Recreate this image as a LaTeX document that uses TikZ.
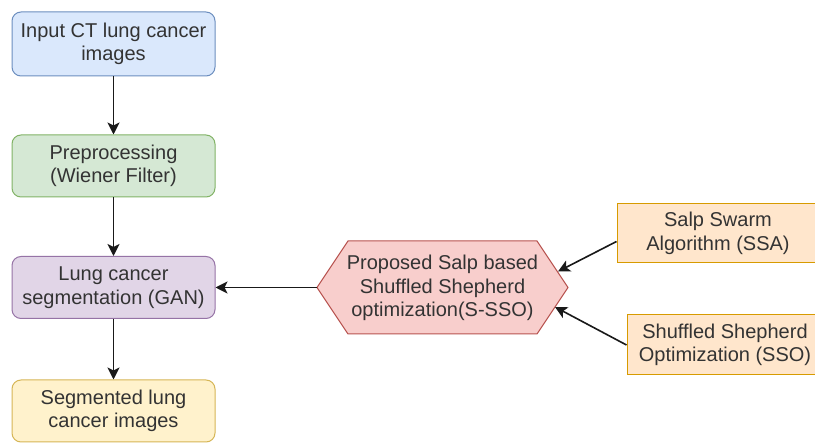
\documentclass[tikz,border=0pt]{standalone}
\usepackage{fontspec}
\setmainfont{Liberation Sans}
\usetikzlibrary{arrows.meta}

\definecolor{txt}{HTML}{333333}
\definecolor{blueF}{HTML}{DAE8FC}\definecolor{blueD}{HTML}{6C8EBF}
\definecolor{greenF}{HTML}{D5E8D4}\definecolor{greenD}{HTML}{82B366}
\definecolor{purpleF}{HTML}{E1D5E7}\definecolor{purpleD}{HTML}{9673A6}
\definecolor{yellowF}{HTML}{FFF2CC}\definecolor{yellowD}{HTML}{D6B656}
\definecolor{orangeF}{HTML}{FFE6CC}\definecolor{orangeD}{HTML}{D79B00}
\definecolor{redF}{HTML}{F8CECC}\definecolor{redD}{HTML}{B85450}

\tikzset{
  label text/.style={text=txt, align=center, inner sep=0pt,
    font=\fontsize{20}{23.5}\selectfont},
  flowbox/.style={label text, rectangle, rounded corners=9pt, line width=1pt,
    minimum width=203pt},
  sidebox/.style={label text, rectangle, line width=1pt, fill=orangeF, draw=orangeD},
  hexshape/.style={fill=redF, draw=redD, line width=1pt},
  arr/.style={draw=black!90, line width=1.6pt,
    -{Stealth[length=12pt,width=12pt,inset=3pt]}},
}

\begin{document}
\begin{tikzpicture}[x=1pt,y=-1pt]
\path[use as bounding box, clip] (0,0) rectangle (815,443);
\fill[white] (0,0) rectangle (815,443);

% main pipeline
\node[flowbox, fill=blueF, draw=blueD, minimum height=64pt] (input) at (113.5,44)
  {Input CT lung cancer\\images};
\node[flowbox, fill=greenF, draw=greenD, minimum height=62pt] (pre) at (113.5,166)
  {Preprocessing\\(Wiener Filter)};
\node[flowbox, fill=purpleF, draw=purpleD, minimum height=62pt] (seg) at (113.5,287.5)
  {Lung cancer\\segmentation (GAN)};
\node[flowbox, fill=yellowF, draw=yellowD, minimum height=62pt] (out) at (113.5,411)
  {Segmented lung\\cancer images};

% hybrid optimiser (hexagon)
\draw[hexshape] (317,287.5) -- (348,241) -- (537,241) -- (568,287.5)
  -- (537,334) -- (348,334) -- cycle;
\node[label text] (hex) at (442.5,288) {Proposed Salp based\\Shuffled Shepherd\\optimization(S-SSO)};
\coordinate (hexW) at (317,287.5);
\coordinate (hexNE) at (558,271.5);
\coordinate (hexSE) at (555,307);

% component algorithms
\node[sidebox, minimum width=202pt, minimum height=59pt] (ssa) at (718,233.5)
  {Salp Swarm\\Algorithm (SSA)};
\node[sidebox, minimum width=196pt, minimum height=60pt] (sso) at (725,345)
  {Shuffled Shepherd\\Optimization (SSO)};

% connectors
\draw[arr] (input) -- (pre);
\draw[arr] (pre) -- (seg);
\draw[arr] (seg) -- (out);
\draw[arr] (hexW) -- (seg.east);
\draw[arr] ([yshift=-8pt]ssa.west) -- (hexNE);
\draw[arr] (sso.west) -- (hexSE);
\end{tikzpicture}
\end{document}
